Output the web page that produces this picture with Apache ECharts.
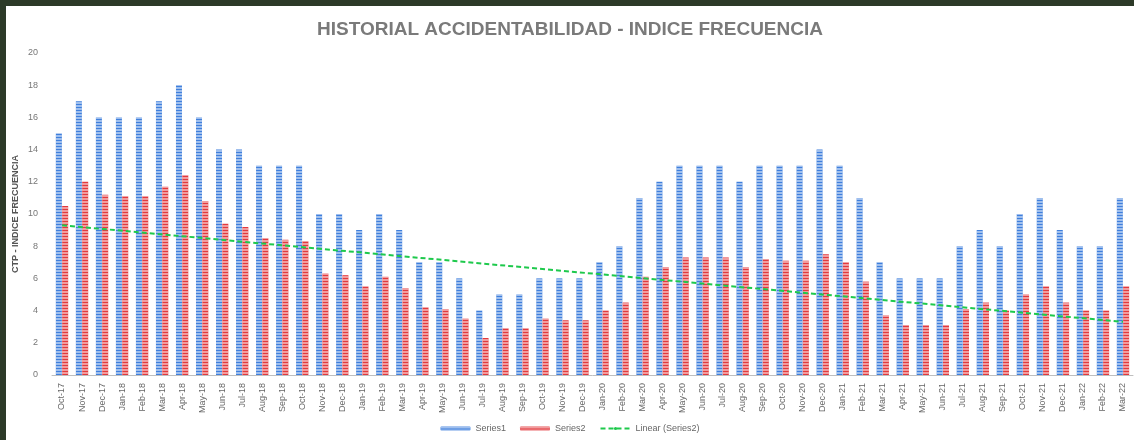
<!DOCTYPE html>
<html>
<head>
<meta charset="utf-8">
<script src="https://cdn.jsdelivr.net/npm/echarts@6/dist/echarts.min.js"></script>
<style>
  html, body { margin: 0; padding: 0; width: 1134px; height: 440px; background: #2c3a28; overflow: hidden; }
  #panel { position: absolute; left: 6px; top: 6px; width: 1128px; height: 434px; background: #fff; }
  #chart { width: 1128px; height: 434px; }
</style>
</head>
<body>
<div id="panel"><div id="chart"></div></div>
<script>
// meses
var months = ['Oct-17','Nov-17','Dec-17','Jan-18','Feb-18','Mar-18','Apr-18','May-18','Jun-18','Jul-18','Aug-18','Sep-18',
  'Oct-18','Nov-18','Dec-18','Jan-19','Feb-19','Mar-19','Apr-19','May-19','Jun-19','Jul-19','Aug-19','Sep-19',
  'Oct-19','Nov-19','Dec-19','Jan-20','Feb-20','Mar-20','Apr-20','May-20','Jun-20','Jul-20','Aug-20','Sep-20',
  'Oct-20','Nov-20','Dec-20','Jan-21','Feb-21','Mar-21','Apr-21','May-21','Jun-21','Jul-21','Aug-21','Sep-21',
  'Oct-21','Nov-21','Dec-21','Jan-22','Feb-22','Mar-22'];

var series1 = [15,17,16,16,16,17,18,16,14,14,13,13,
  13,10,10,9,10,9,7,7,6,4,5,5,
  6,6,6,7,8,11,12,13,13,13,12,13,
  13,13,14,13,11,7,6,6,6,8,9,8,
  10,11,9,8,8,11];

var series2 = [10.5,12,11.2,11.1,11.1,11.7,12.4,10.8,9.4,9.2,8.5,8.4,
  8.3,6.3,6.2,5.5,6.1,5.4,4.2,4.1,3.5,2.3,2.9,2.9,
  3.5,3.4,3.4,4.0,4.5,6.1,6.7,7.3,7.3,7.3,6.7,7.2,
  7.1,7.1,7.5,7.0,5.8,3.7,3.1,3.1,3.1,4.1,4.5,4.0,
  5.0,5.5,4.5,4.0,4.0,5.5];

// tendencia lineal (inicio, fin)
var trendEnds = [9.3, 3.3];

var yTicks = [0, 2, 4, 6, 8, 10, 12, 14, 16, 18, 20];

var trend = months.map(function (m, i) {
  if (i === 0) return trendEnds[0];
  if (i === months.length - 1) return trendEnds[1];
  return null;
});

var stripes = {
  symbol: 'rect',
  symbolSize: 1,
  dashArrayX: [1, 0],
  dashArrayY: [2, 1],
  color: 'rgba(255,255,255,0.5)'
};

var chart = echarts.init(document.getElementById('chart'));
chart.setOption({
  animation: false,
  title: {
    text: 'HISTORIAL ACCIDENTABILIDAD - INDICE FRECUENCIA',
    left: 'center',
    top: 9,
    textStyle: { fontFamily: 'Liberation Sans', fontSize: 19, fontWeight: 'bold', color: '#7a7a7a' }
  },
  legend: {
    bottom: 2,
    left: 'center',
    itemWidth: 30,
    itemHeight: 4,
    itemGap: 14,
    textStyle: { fontFamily: 'Liberation Sans', fontSize: 9, color: '#666' },
    data: ['Series1', 'Series2', 'Linear (Series2)']
  },
  grid: { left: 46, right: 1, top: 47, bottom: 65, outerBoundsMode: 'none' },
  xAxis: {
    type: 'category',
    data: months,
    axisLine: { lineStyle: { color: '#bfbfbf' } },
    axisTick: { show: false },
    axisLabel: { rotate: 90, interval: 0, fontFamily: 'Liberation Sans', fontSize: 9, color: '#666', margin: 8 }
  },
  yAxis: {
    type: 'value',
    min: yTicks[0],
    max: yTicks[yTicks.length - 1],
    interval: 2,
    name: 'CTP - INDICE FRECUENCIA',
    nameLocation: 'middle',
    nameGap: 32,
    nameMoveOverlap: false,
    nameTextStyle: { fontFamily: 'Liberation Sans', fontSize: 9, fontWeight: 'bold', color: '#555' },
    axisLine: { show: false },
    axisTick: { show: false },
    splitLine: { show: false },
    axisLabel: { fontFamily: 'Liberation Sans', fontSize: 9, color: '#777', margin: 14 }
  },
  series: [
    {
      name: 'Series1',
      type: 'bar',
      data: series1,
      barWidth: 6,
      barGap: '5%',
      itemStyle: { color: '#3f7fdc', decal: stripes }
    },
    {
      name: 'Series2',
      type: 'bar',
      data: series2,
      barWidth: 6,
      itemStyle: { color: '#e2393d', decal: stripes }
    },
    {
      name: 'Linear (Series2)',
      type: 'line',
      data: trend,
      connectNulls: true,
      symbol: 'none',
      z: 5,
      itemStyle: { color: '#1ec94c' },
      lineStyle: { color: '#1ec94c', width: 2, type: [5, 3] }
    }
  ]
});
</script>
</body>
</html>
